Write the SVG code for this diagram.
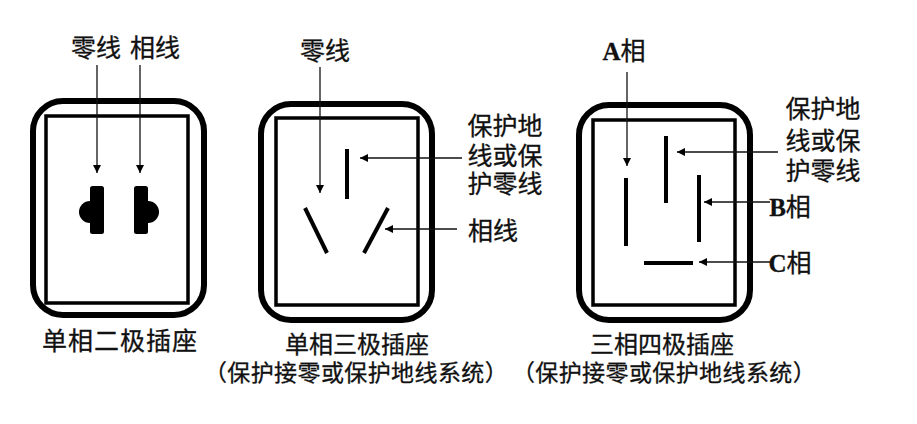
<svg xmlns="http://www.w3.org/2000/svg" width="917" height="424" viewBox="0 0 917 424">
<style>
text{font-family:"Noto Sans CJK SC","Noto Sans",sans-serif;fill:#111;stroke:#111;stroke-width:.3;font-size:25px;text-anchor:middle}
.l{letter-spacing:1px}
.s{font-size:23px;letter-spacing:.4px}
.m{font-size:24px}
tspan.b{font-family:"Liberation Serif",serif;font-weight:700}
.o{fill:#fff;stroke:#000;stroke-width:6}
.i{fill:none;stroke:#000;stroke-width:3.5}
.bl{stroke:#000;stroke-width:4;fill:none}
.c line{stroke:#111;stroke-width:1.3;marker-end:url(#a)}
</style>
<defs><marker id="a" markerUnits="userSpaceOnUse" markerWidth="9" markerHeight="9" refX="8" refY="4" orient="auto"><path d="M0 0L8 4L0 8Z" fill="#000"/></marker></defs>
<g id="socket1">
<rect class="o" x="33" y="101" width="171" height="214" rx="30"/>
<rect class="i" x="46" y="116" width="142" height="187"/>
<path d="M90 201A11 11 0 0 0 90 223Z" fill="#000"/>
<rect x="90" y="186" width="14" height="48" rx="2.5" fill="#000"/>
<path d="M148 201A11 11 0 0 1 148 223Z" fill="#000"/>
<rect x="134" y="186" width="14" height="48" rx="2.5" fill="#000"/>
<text x="96" y="57">零线</text><text x="155" y="57">相线</text>
<text class="l" x="120" y="350">单相二极插座</text>
</g>
<g id="socket2">
<rect class="o" x="261" y="104" width="171" height="216" rx="30"/>
<rect class="i" x="276" y="118" width="142" height="187"/>
<line class="bl" x1="347" y1="149" x2="347" y2="199"/>
<line class="bl" x1="305" y1="208" x2="327" y2="253"/>
<line class="bl" x1="388" y1="208" x2="364" y2="253"/>
<text x="325" y="60">零线</text>
<text x="505" y="135">保护地</text><text x="505" y="165">线或保</text><text x="505" y="193">护零线</text>
<text x="493" y="240">相线</text>
<text class="m" x="357" y="353">单相三极插座</text>
<text class="s" x="356" y="381">（保护接零或保护地线系统）</text>
</g>
<g id="socket3">
<rect class="o" x="579" y="105" width="171" height="215" rx="30"/>
<rect class="i" x="593" y="120" width="142" height="185"/>
<line class="bl" x1="626" y1="178" x2="626" y2="246"/>
<line class="bl" x1="666" y1="136" x2="666" y2="203"/>
<line class="bl" x1="699" y1="175" x2="699" y2="242"/>
<line class="bl" x1="644" y1="263" x2="693" y2="263"/>
<text x="624" y="60"><tspan class="b">A</tspan>相</text>
<text x="823" y="118">保护地</text><text x="823" y="150">线或保</text><text x="823" y="180">护零线</text>
<text x="790" y="216"><tspan class="b">B</tspan>相</text>
<text x="790" y="272"><tspan class="b">C</tspan>相</text>
<text class="m" x="662" y="353">三相四极插座</text>
<text class="s" x="664" y="381">（保护接零或保护地线系统）</text>
</g>
<g id="connectors" class="c">
<line x1="97" y1="65" x2="97" y2="173"/>
<line x1="140" y1="65" x2="140" y2="173"/>
<line x1="320" y1="67" x2="320" y2="193"/>
<line x1="462" y1="158" x2="360" y2="158"/>
<line x1="457" y1="229" x2="385" y2="229"/>
<line x1="627" y1="72" x2="627" y2="166"/>
<line x1="778" y1="152" x2="677" y2="152"/>
<line x1="770" y1="202" x2="704" y2="202"/>
<line x1="770" y1="262" x2="699" y2="262"/>
</g>
</svg>
